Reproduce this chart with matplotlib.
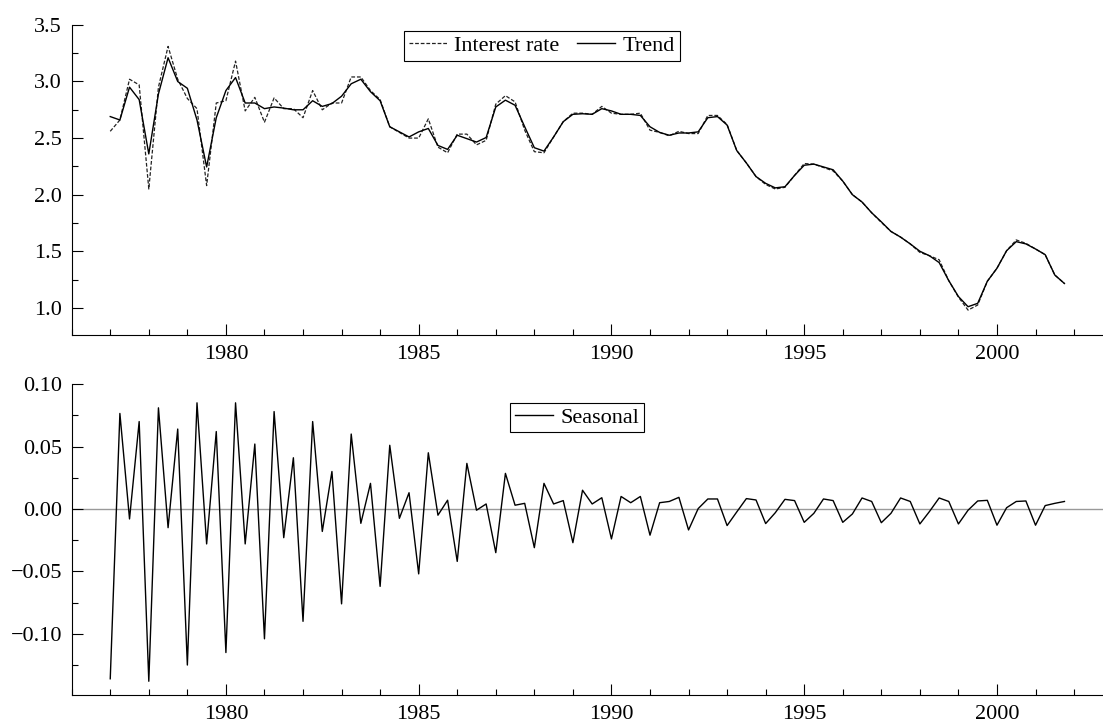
import numpy as np
import matplotlib
matplotlib.use("Agg")
import matplotlib.pyplot as plt
from matplotlib.ticker import MultipleLocator, FuncFormatter

# ── Data: quarterly, 1977Q1 .. 2001Q4 ─────────────────────────
quarters = 1977 + np.arange(100) / 4.0

interest_rate = [
    2.56, 2.66, 3.02, 2.97, 2.05, 2.95, 3.31, 3.02, 2.85, 2.76,
    2.08, 2.81, 2.83, 3.18, 2.74, 2.86, 2.64, 2.855, 2.76, 2.76,
    2.68, 2.92, 2.75, 2.81, 2.81, 3.04, 3.04, 2.92, 2.84, 2.60,
    2.55, 2.50, 2.50, 2.67, 2.42, 2.37, 2.535, 2.535, 2.44, 2.48,
    2.80, 2.875, 2.82, 2.57, 2.38, 2.37, 2.51, 2.645, 2.72, 2.72,
    2.71, 2.78, 2.72, 2.71, 2.71, 2.72, 2.57, 2.55, 2.52, 2.56,
    2.54, 2.54, 2.70, 2.70, 2.62, 2.39, 2.28, 2.16, 2.09, 2.05,
    2.065, 2.17, 2.275, 2.27, 2.24, 2.21, 2.12, 2.00, 1.935, 1.84,
    1.755, 1.675, 1.625, 1.565, 1.49, 1.46, 1.425, 1.24, 1.095, 0.98,
    1.025, 1.235, 1.35, 1.505, 1.60, 1.57, 1.52, 1.47, 1.29, 1.215,
]

trend = [
    2.69, 2.66, 2.95, 2.84, 2.36, 2.89, 3.21, 3.00, 2.94, 2.66,
    2.245, 2.68, 2.92, 3.035, 2.81, 2.81, 2.76, 2.775, 2.765, 2.75,
    2.75, 2.83, 2.78, 2.805, 2.87, 2.98, 3.02, 2.91, 2.83, 2.60,
    2.555, 2.51, 2.555, 2.585, 2.435, 2.40, 2.525, 2.495, 2.465, 2.505,
    2.775, 2.835, 2.79, 2.60, 2.415, 2.385, 2.51, 2.645, 2.71, 2.715,
    2.71, 2.76, 2.74, 2.71, 2.71, 2.70, 2.60, 2.55, 2.525, 2.545,
    2.545, 2.555, 2.68, 2.69, 2.615, 2.39, 2.28, 2.16, 2.10, 2.06,
    2.07, 2.17, 2.26, 2.27, 2.245, 2.22, 2.12, 2.00, 1.935, 1.84,
    1.76, 1.675, 1.625, 1.565, 1.50, 1.46, 1.40, 1.24, 1.10, 1.01,
    1.04, 1.235, 1.35, 1.505, 1.585, 1.565, 1.52, 1.47, 1.29, 1.215,
]

seasonal = [
    -0.136, 0.0765, -0.008, 0.070, -0.138, 0.081, -0.015, 0.064, -0.125, 0.085,
    -0.028, 0.062, -0.115, 0.085, -0.028, 0.052, -0.104, 0.078, -0.023, 0.041,
    -0.090, 0.070, -0.018, 0.030, -0.076, 0.060, -0.0115, 0.0205, -0.062, 0.051,
    -0.0075, 0.013, -0.052, 0.045, -0.005, 0.007, -0.042, 0.0365, -0.001, 0.004,
    -0.035, 0.0285, 0.003, 0.0045, -0.031, 0.0205, 0.004, 0.0067, -0.027, 0.015,
    0.004, 0.009, -0.024, 0.010, 0.005, 0.010, -0.021, 0.005, 0.006, 0.0093,
    -0.0168, 0.0003, 0.008, 0.008, -0.0133, -0.0024, 0.0083, 0.0072, -0.0117, -0.003,
    0.0077, 0.0067, -0.0107, -0.0035, 0.008, 0.0067, -0.0107, -0.004, 0.0088, 0.006,
    -0.011, -0.0035, 0.0088, 0.006, -0.012, -0.002, 0.0088, 0.006, -0.012, -0.001,
    0.0064, 0.0069, -0.013, 0.001, 0.006, 0.0064, -0.013, 0.0027, 0.0045, 0.006,
]

# ── Style ──────────────────────────────────────────────────────
plt.rcParams["font.family"] = ["Liberation Serif", "DejaVu Serif"]
plt.rcParams["font.size"] = 16
FS = 16


def fmt_func(decimals):
    def f(v, pos):
        s = f"{v:.{decimals}f}"
        if s.startswith("-"):
            s = "\u2212" + s[1:]
        return s
    return FuncFormatter(f)


def style_axis(ax, ylim, major, minor, decimals):
    ax.set_xlim(1976, 2002.75)
    ax.set_ylim(*ylim)
    for side in ("top", "right"):
        ax.spines[side].set_visible(False)
    for side in ("left", "bottom"):
        ax.spines[side].set_linewidth(0.8)
    ax.xaxis.set_major_locator(MultipleLocator(5))
    ax.xaxis.set_minor_locator(MultipleLocator(1))
    ax.yaxis.set_major_locator(MultipleLocator(major))
    ax.yaxis.set_minor_locator(MultipleLocator(minor))
    ax.yaxis.set_major_formatter(fmt_func(decimals))
    ax.tick_params(which="major", direction="in", length=8, width=0.8,
                   labelsize=FS, pad=7)
    ax.tick_params(which="minor", direction="in", length=4, width=0.8)


fig = plt.figure(figsize=(11.03, 7.22), dpi=100)
ax1 = fig.add_axes([0.065, 0.536, 0.935, 0.4295])
ax2 = fig.add_axes([0.065, 0.0374, 0.935, 0.4306])

# ── Top panel: interest rate + trend ──────────────────────────
ax1.plot(quarters, interest_rate, color="#222222", lw=0.9, ls=(0, (3, 1.5)),
         label="Interest rate")
ax1.plot(quarters, trend, color="black", lw=1.0, label="Trend")
style_axis(ax1, (0.76, 3.5), 0.5, 0.25, 1)
leg1 = ax1.legend(loc="upper center", bbox_to_anchor=(0.456, 0.98), ncol=2,
                  fancybox=False, framealpha=1, edgecolor="black",
                  handlelength=1.7, handletextpad=0.35, columnspacing=0.8,
                  borderpad=0.2, borderaxespad=0, fontsize=FS)
leg1.get_frame().set_linewidth(0.8)

# ── Bottom panel: seasonal ────────────────────────────────────
ax2.axhline(0, color="#999999", lw=1.0, zorder=1)
ax2.plot(quarters, seasonal, color="black", lw=1.0, label="Seasonal", zorder=2)
style_axis(ax2, (-0.149, 0.10), 0.05, 0.025, 2)
leg2 = ax2.legend(loc="upper center", bbox_to_anchor=(0.49, 0.94), ncol=1,
                  fancybox=False, framealpha=1, edgecolor="black",
                  handlelength=1.7, handletextpad=0.35,
                  borderpad=0.2, borderaxespad=0, fontsize=FS)
leg2.get_frame().set_linewidth(0.8)

fig.savefig("out.png", dpi=100)
